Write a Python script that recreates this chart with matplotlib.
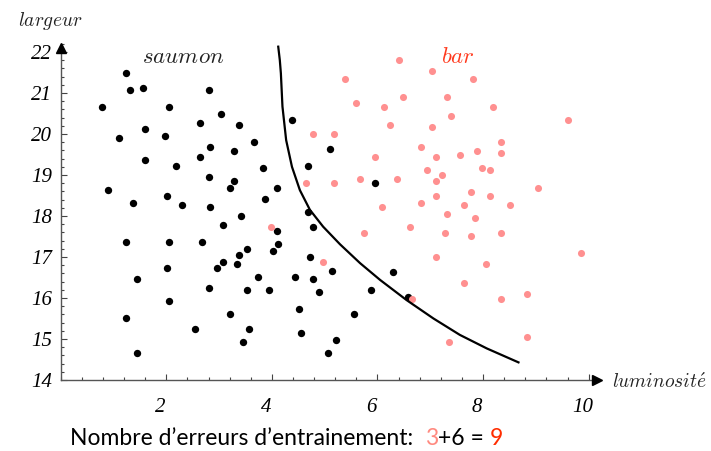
import matplotlib
matplotlib.use("Agg")
import matplotlib.pyplot as plt
import matplotlib.transforms as mtransforms
from matplotlib.ticker import MultipleLocator, FixedLocator

plt.rcParams['mathtext.fontset'] = 'cm'
plt.rcParams['font.serif'] = ['Liberation Serif', 'DejaVu Serif']

# --- data -------------------------------------------------------------
saumon_x = [1.24, 1.32, 1.56, 2.80, 0.78, 2.06, 3.04, 2.63, 3.37, 4.39, 1.11, 1.60, 1.97, 3.66,
            2.83, 3.29, 5.10, 2.63, 1.60, 2.18, 3.83, 4.68, 2.80, 3.29, 3.21, 4.10, 0.90, 1.36,
            2.01, 2.30, 2.83, 3.86, 3.41, 4.68, 3.08, 4.77, 4.10, 4.11, 4.03, 1.24, 2.06, 2.67,
            3.53, 3.37, 4.72, 3.08, 3.33, 2.02, 2.96, 5.14, 1.44, 3.74, 4.43, 4.77, 2.80, 3.53,
            3.94, 4.89, 2.06, 4.52, 1.24, 3.21, 5.56, 2.55, 3.57, 4.56, 3.45, 5.22, 1.44, 5.06,
            5.96, 6.29, 5.88, 6.57]
saumon_y = [21.50, 21.07, 21.12, 21.07, 20.65, 20.65, 20.49, 20.28, 20.22, 20.33, 19.90, 20.11, 19.96, 19.80,
            19.69, 19.59, 19.64, 19.43, 19.37, 19.22, 19.17, 19.22, 18.95, 18.85, 18.69, 18.69, 18.63, 18.32,
            18.48, 18.27, 18.21, 18.42, 18.00, 18.10, 17.79, 17.73, 17.63, 17.31, 17.15, 17.37, 17.37, 17.37,
            17.20, 17.04, 16.99, 16.89, 16.83, 16.72, 16.72, 16.67, 16.46, 16.52, 16.52, 16.46, 16.25, 16.20,
            16.20, 16.15, 15.93, 15.72, 15.51, 15.62, 15.62, 15.25, 15.25, 15.14, 14.93, 14.98, 14.67, 14.67,
            18.80, 16.63, 16.20, 16.03]

bar_x = [5.38, 5.59, 4.77, 5.18, 4.64, 5.18, 5.66, 6.41, 7.03, 7.81, 6.49, 7.32, 6.12, 8.18,
         7.40, 6.24, 7.03, 9.61, 6.82, 8.34, 5.96, 7.11, 7.56, 7.89, 8.34, 6.94, 7.23, 7.97,
         8.14, 6.37, 7.11, 9.04, 7.77, 7.11, 8.14, 6.09, 6.82, 7.64, 8.51, 7.32, 7.85, 6.62,
         5.75, 7.27, 7.77, 8.34, 9.86, 7.11, 8.05, 7.64, 6.65, 8.34, 8.84, 8.84, 7.35, 3.99, 4.97]
bar_y = [21.33, 20.76, 20.01, 20.01, 18.80, 18.80, 18.90, 21.81, 21.54, 21.33, 20.91, 20.91, 20.65, 20.65,
         20.44, 20.22, 20.17, 20.33, 19.69, 19.80, 19.43, 19.43, 19.48, 19.59, 19.54, 19.11, 19.01, 19.16,
         19.11, 18.90, 18.85, 18.69, 18.59, 18.48, 18.48, 18.21, 18.32, 18.27, 18.27, 18.06, 17.95, 17.73,
         17.58, 17.58, 17.52, 17.58, 17.10, 16.99, 16.84, 16.36, 15.98, 15.98, 16.09, 15.04, 14.93, 17.73, 16.89]

frontiere_x = [4.12, 4.15, 4.17, 4.20, 4.27, 4.38, 4.53, 4.72, 4.97, 5.29, 5.67, 6.05, 6.55, 7.06, 7.56, 8.07, 8.67]
frontiere_y = [22.13, 21.80, 21.48, 20.67, 19.85, 19.20, 18.63, 18.15, 17.74, 17.31, 16.85, 16.44, 15.95, 15.50, 15.10, 14.77, 14.43]

x_ticks = [2, 4, 6, 8, 10]
y_ticks = [14, 15, 16, 17, 18, 19, 20, 21, 22]
errors_bar = 3
errors_saumon = 6

# --- figure -----------------------------------------------------------
W, H = 711, 451
fig = plt.figure(figsize=(W / 100, H / 100), dpi=100)
ax = fig.add_axes([60.7 / W, (H - 380) / H, 10.2 * 52.8 / W, 8.2 * 41 / H])
ax.set_xlim(0, 10.2)
ax.set_ylim(14, 22.2)

ax.scatter(saumon_x, saumon_y, s=28, color='black', linewidths=0, zorder=3, clip_on=False)
ax.scatter(bar_x, bar_y, s=26, color='#ff9090', linewidths=0, zorder=3, clip_on=False)
ax.plot(frontiere_x, frontiere_y, color='black', lw=1.6, zorder=4, clip_on=False,
        solid_joinstyle='round')

for s in ['top', 'right']:
    ax.spines[s].set_visible(False)
for s in ['left', 'bottom']:
    ax.spines[s].set_color('#555555')
    ax.spines[s].set_linewidth(1.0)

# arrows
ax.plot([0], [22.1], marker='^', color='black', markersize=7, clip_on=False, zorder=5)
ax.plot([10.15], [14], marker='>', color='black', markersize=7, clip_on=False, zorder=5)

ax.xaxis.set_major_locator(FixedLocator(x_ticks))
ax.xaxis.set_minor_locator(MultipleLocator(0.4))
ax.yaxis.set_major_locator(FixedLocator(y_ticks))
ax.yaxis.set_minor_locator(MultipleLocator(0.2))
ax.tick_params(which='both', direction='in', color='#444444', width=0.8)
ax.tick_params(which='major', length=4)
ax.tick_params(which='minor', length=2.2)
ax.tick_params(axis='x', which='major', pad=13)
ax.tick_params(axis='y', which='major', pad=6)
ax.set_xticklabels([str(t) for t in x_ticks])
ax.set_yticklabels([str(t) for t in y_ticks])
shift = mtransforms.ScaledTranslation(-6 / 100, 0, fig.dpi_scale_trans)
for lbl in ax.get_xticklabels():
    lbl.set_fontfamily('serif')
    lbl.set_fontstyle('italic')
    lbl.set_fontsize(15)
    lbl.set_transform(lbl.get_transform() + shift)
for lbl in ax.get_yticklabels():
    lbl.set_fontfamily('serif')
    lbl.set_fontstyle('italic')
    lbl.set_fontsize(15)

def px(x, y):
    return x / W, 1 - y / H

fig.text(*px(50, 26), r'$largeur$', fontsize=14, ha='center', va='baseline', color='#222222')
fig.text(*px(183, 62.7), r'$saumon$', fontsize=16.5, ha='center', va='baseline', color='#222222')
fig.text(*px(457.5, 62.7), r'$bar$', fontsize=16.5, ha='center', va='baseline', color='#ff3a1e')
fig.text(*px(611.7, 388), r'$luminosit\acute{e}$', fontsize=14, ha='left', va='baseline', color='#222222')

# bottom line with coloured numbers
pieces = [('Nombre d\u2019erreurs d\u2019entrainement:  ', 'black'),
          (str(errors_bar), '#ff8a80'),
          ('+' + str(errors_saumon) + ' = ', 'black'),
          (str(errors_bar + errors_saumon), '#ff2d00')]
fig.canvas.draw()
renderer = fig.canvas.get_renderer()
xpos = 70
for txt, col in pieces:
    t = fig.text(*px(xpos, 445), txt, fontsize=16.5, fontfamily='Lato', color=col,
                 ha='left', va='baseline')
    bb = t.get_window_extent(renderer=renderer)
    xpos += bb.width

fig.savefig('out.png', dpi=100)
